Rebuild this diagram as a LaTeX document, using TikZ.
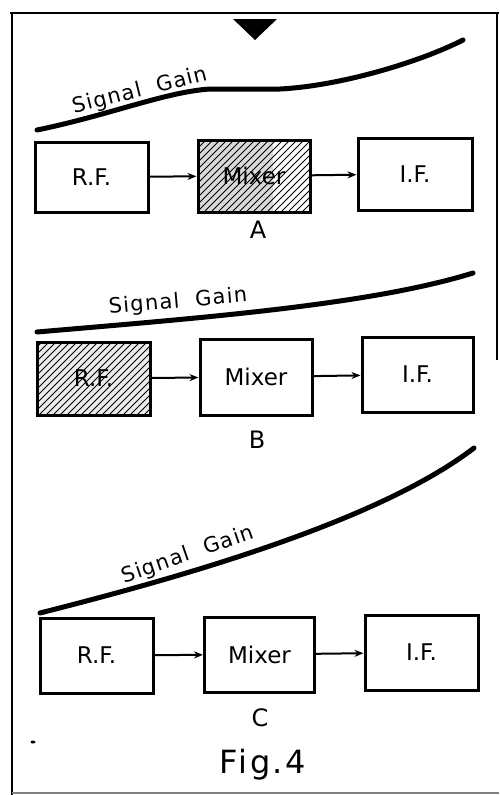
\documentclass[tikz,border=0pt]{standalone}
\usepackage{fontspec}
\setmainfont{DejaVu Sans}
\usetikzlibrary{arrows.meta}
\begin{document}
\begin{tikzpicture}[x=1pt,y=-1pt,
  blk/.style={draw, line width=3pt, inner sep=0pt, font=\fontsize{23}{26}\selectfont},
  arr/.style={line width=2pt, -{Stealth[length=9pt,width=7pt]}},
  gain/.style={line width=5pt, line cap=round},
  glab/.style={inner sep=0pt, font=\fontsize{21}{24}\selectfont\addfontfeature{LetterSpace=6}},
  lab/.style={inner sep=0pt, font=\fontsize{24}{26}\selectfont},
  frame/.style={line width=2.8pt},
  hatch/.style={line width=0.8pt}]
\useasboundingbox (0,0) rectangle (499,795);
% frame
\draw[frame] (10,13) -- (499,13);
\draw[frame] (12,13) -- (12,795);
\draw[frame] (497,13) -- (497,360);
\draw[line width=1.5pt, gray] (12,793) -- (499,793);
\fill (233,19) -- (277,19) -- (255,40) -- cycle;
% ---------- A ----------
\draw[gain] (37,130) .. controls (110,115) and (165,92) .. (210,89) -- (280,89) .. controls (340,86) and (420,62) .. (463,40);
\node[glab, rotate=14] (sgA) at (140,91) {Signal\ \ Gain};
\begin{scope}
\clip (198,140) rectangle (310,212);
\fill[gray!30] (198,140) rectangle (273,212);
\foreach \k in {120,127,...,312} \draw[hatch] (\k,212) -- ++(80,-80);
\end{scope}
\node[blk, minimum width=113pt, minimum height=70pt] (rfA) at (91.5,177) {R.F.};
\node[blk, minimum width=112pt, minimum height=72pt] (mixA) at (254,176) {Mixer};
\node[blk, minimum width=114pt, minimum height=72pt] (ifA) at (415,174) {I.F.};
\draw[arr] (rfA) -- (mixA);
\draw[arr] (mixA) -- (ifA);
\node[lab] (labA) at (258,230) {A};
% ---------- B ----------
\draw[gain] (37,332) .. controls (200,318) and (370,305) .. (473,273);
\node[glab, rotate=5] (sgB) at (178,302) {Signal\ \ Gain};
\begin{scope}
\clip (37,342) rectangle (150,415);
\fill[gray!15] (37,342) rectangle (150,415);
\foreach \k in {-45,-38,...,160} \draw[hatch] (\k,415) -- ++(85,-85);
\end{scope}
\node[blk, minimum width=113pt, minimum height=73pt] (rfB) at (93.5,378.5) {R.F.};
\node[blk, minimum width=112pt, minimum height=76pt] (mixB) at (256,377) {Mixer};
\node[blk, minimum width=111pt, minimum height=75pt] (ifB) at (417.5,374.5) {I.F.};
\draw[arr] (rfB) -- (mixB);
\draw[arr] (mixB) -- (ifB);
\node[lab] (labB) at (257,440) {B};
% ---------- C ----------
\draw[gain] (40,613) .. controls (190,575) and (380,520) .. (474,448);
\node[glab, rotate=19] (sgC) at (188,555) {Signal\ \ Gain};
\node[blk, minimum width=113pt, minimum height=75pt] (rfC) at (96.5,655.5) {R.F.};
\node[blk, minimum width=110pt, minimum height=75pt] (mixC) at (259.5,654.5) {Mixer};
\node[blk, minimum width=113pt, minimum height=75pt] (ifC) at (421.5,652.5) {I.F.};
\draw[arr] (rfC) -- (mixC);
\draw[arr] (mixC) -- (ifC);
\node[lab] (labC) at (260,718) {C};
\fill (33,742) ellipse (2.5pt and 1.5pt);
\node[inner sep=0pt, font=\fontsize{32}{34}\selectfont\addfontfeature{LetterSpace=8}] (fig) at (263,765) {Fig.4};
\end{tikzpicture}
\end{document}
